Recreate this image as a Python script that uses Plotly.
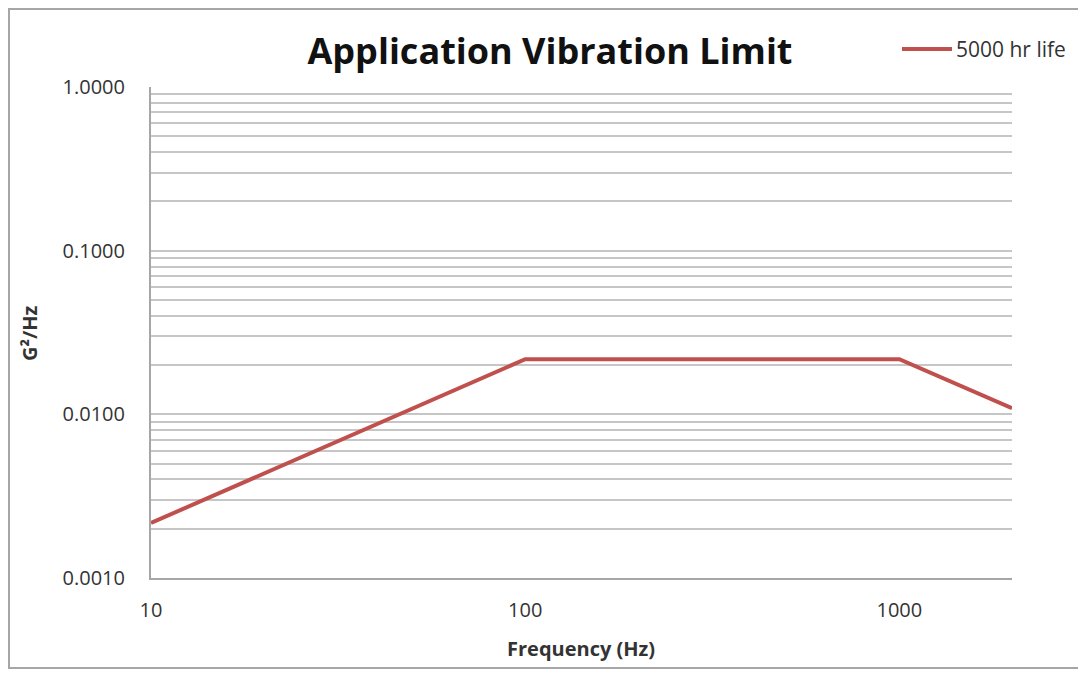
import plotly.graph_objects as go

freq_hz = [10, 100, 1000, 2000]
psd_g2_hz = [0.00217, 0.0217, 0.0217, 0.0109]
series_name = "5000 hr life"
y_tick_vals = [0.001, 0.01, 0.1, 1.0]
y_tick_text = ["0.0010", "0.0100", "0.1000", "1.0000"]
x_tick_vals = [10, 100, 1000]
x_tick_text = ["10", "100", "1000"]

# page body adds an 8px offset; figure coordinates below are window - 8
OFF = 8
W, H = 1086 - OFF, 681 - OFF
L, R, T, B = 151 - OFF, 1012 - OFF, 87 - OFF, 578 - OFF

def px(x):
    return (x - OFF - L) / (R - L)

def py(y):
    return (B - (y - OFF)) / (B - T)

line_color = "#C0504D"
fig = go.Figure()
fig.add_trace(go.Scatter(
    x=freq_hz, y=psd_g2_hz, mode="lines", name=series_name,
    line=dict(color=line_color, width=4), showlegend=False,
))

tick_font = "'Open Sans', sans-serif"
fig.update_layout(
    width=W, height=H,
    margin=dict(l=L, r=W - R, t=T, b=H - B),
    paper_bgcolor="white", plot_bgcolor="white",
    font=dict(family=tick_font, color="#333333", size=14),
    title=dict(text="<b>Application Vibration Limit</b>", x=(550 - OFF) / W, xanchor="center",
               y=1 - (51 - OFF) / H, yanchor="middle",
               font=dict(size=36, color="#111111", family=tick_font)),
    xaxis=dict(type="log", range=[1, 3.30103], tickvals=x_tick_vals, ticktext=x_tick_text,
               showgrid=False, showline=True, linecolor="#A6A6A6", linewidth=2,
               ticks="", zeroline=False, ticklabelstandoff=13,
               tickfont=dict(size=20, color="#333333", family=tick_font)),
    yaxis=dict(type="log", range=[-3, 0], tickvals=y_tick_vals, ticktext=y_tick_text,
               showgrid=True, gridcolor="#C6C6C6", gridwidth=1.5,
               showline=True, linecolor="#A6A6A6", linewidth=2, ticks="",
               zeroline=False, ticklabelstandoff=20,
               tickfont=dict(size=20, color="#333333", family=tick_font),
               minor=dict(showgrid=True, gridcolor="#C6C6C6", gridwidth=1.5, dtick="D1")),
)

# legend drawn manually so its line sample matches the reference length
fig.add_shape(type="line", xref="paper", yref="paper", x0=px(902), x1=px(952), y0=py(49), y1=py(49),
              line=dict(color=line_color, width=4))
fig.add_annotation(text=series_name, xref="paper", yref="paper", x=px(954), y=py(49),
                   xanchor="left", yanchor="middle", showarrow=False,
                   font=dict(size=21, color="#333333", family=tick_font))

fig.add_annotation(text="<b>Frequency (Hz)</b>", xref="paper", yref="paper",
                   x=px(581), y=py(648), xanchor="center", yanchor="middle", showarrow=False,
                   font=dict(size=20, color="#333333", family=tick_font))
fig.add_annotation(text="<b>G²/Hz</b>", xref="paper", yref="paper", textangle=-90,
                   x=px(29), y=py(333), xanchor="center", yanchor="middle", showarrow=False,
                   font=dict(size=20, color="#333333", family=tick_font))

border = dict(color="#A6A6A6", width=2)
fig.add_shape(type="line", xref="paper", yref="paper", x0=px(OFF), x1=px(1100), y0=py(OFF + 1), y1=py(OFF + 1), line=border)
fig.add_shape(type="line", xref="paper", yref="paper", x0=px(OFF), x1=px(1100), y0=py(668), y1=py(668), line=border)
fig.add_shape(type="line", xref="paper", yref="paper", x0=px(OFF + 1), x1=px(OFF + 1), y0=py(OFF), y1=py(668), line=border)

fig.write_html("out.html")
